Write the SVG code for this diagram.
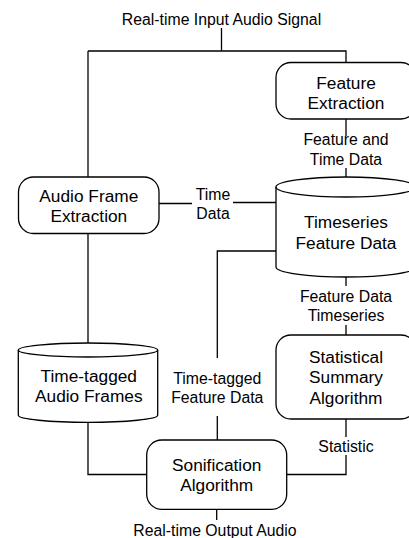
<svg xmlns="http://www.w3.org/2000/svg" width="409" height="538" viewBox="0 0 409 538">
<style>
.n{fill:#fff;stroke:#000;stroke-width:1.3}
.c{fill:none;stroke:#000;stroke-width:1.3}
text{font-family:"Liberation Sans",Arial,Helvetica,sans-serif;fill:#000;text-anchor:middle}
.t{font-size:17.3px}
.l{font-size:15.8px}
</style>
<rect width="409" height="538" fill="#fff"/>
<g id="connectors">
<path class="c" d="M221.5 28V51M88 51H346V62.5"/>
<path class="c" d="M88 51V177"/>
<path class="c" d="M346 119V136M346 168V177"/>
<path class="c" d="M159 203.5H192M233 202.5H276"/>
<path class="c" d="M346 277V286M346 325V335"/>
<path class="c" d="M276 251H217.3V358M217.3 416V440"/>
<path class="c" d="M88 233V343"/>
<path class="c" d="M88 422V474.5H146.7"/>
<path class="c" d="M346 419V437M346 455V474.5H286.7"/>
<path class="c" d="M216.7 509V520"/>
<text class="l" x="221.5" y="24.5">Real-time Input Audio Signal</text>
<text class="l" x="346" y="144.5">Feature and</text>
<text class="l" x="346" y="164.5">Time Data</text>
<text class="l" x="213" y="200">Time</text>
<text class="l" x="213" y="218.5">Data</text>
<text class="l" x="346" y="302">Feature Data</text>
<text class="l" x="346" y="320.5">Timeseries</text>
<text class="l" x="217.3" y="383.5">Time-tagged</text>
<text class="l" x="217.3" y="402.5">Feature Data</text>
<text class="l" x="346" y="451.5">Statistic</text>
<text class="l" x="215" y="536">Real-time Output Audio</text>
</g>
<g id="feature-extraction">
<rect class="n" x="276" y="62.5" width="140" height="56.5" rx="15" ry="15"/>
<text class="t" x="346" y="88.5">Feature</text>
<text class="t" x="346" y="108.5">Extraction</text>
</g>
<g id="audio-frame-extraction">
<rect class="n" x="18.5" y="177" width="140.5" height="56.5" rx="15" ry="15"/>
<text class="t" x="88.8" y="201.8">Audio Frame</text>
<text class="t" x="88.8" y="222.3">Extraction</text>
</g>
<g id="timeseries-feature-data">
<path class="n" d="M276 187A70 10 0 0 1 416 187V267A70 10 0 0 1 276 267Z"/>
<path class="c" d="M276 187A70 10 0 0 0 416 187"/>
<text class="t" x="346" y="228">Timeseries</text>
<text class="t" x="346" y="248.5">Feature Data</text>
</g>
<g id="statistical-summary-algorithm">
<rect class="n" x="276" y="335" width="140" height="84" rx="15" ry="15"/>
<text class="t" x="346" y="362.7">Statistical</text>
<text class="t" x="346" y="383.3">Summary</text>
<text class="t" x="346" y="403.5">Algorithm</text>
</g>
<g id="time-tagged-audio-frames">
<path class="n" d="M18.3 350A69.7 7 0 0 1 157.7 350V415.3A69.7 7 0 0 1 18.3 415.3Z"/>
<path class="c" d="M18.3 350A69.7 7 0 0 0 157.7 350"/>
<text class="t" x="88.8" y="381.8">Time-tagged</text>
<text class="t" x="88.8" y="401.8">Audio Frames</text>
</g>
<g id="sonification-algorithm">
<rect class="n" x="146.7" y="440" width="140" height="69.3" rx="15" ry="15"/>
<text class="t" x="216.7" y="470.8">Sonification</text>
<text class="t" x="216.7" y="491">Algorithm</text>
</g>
</svg>
